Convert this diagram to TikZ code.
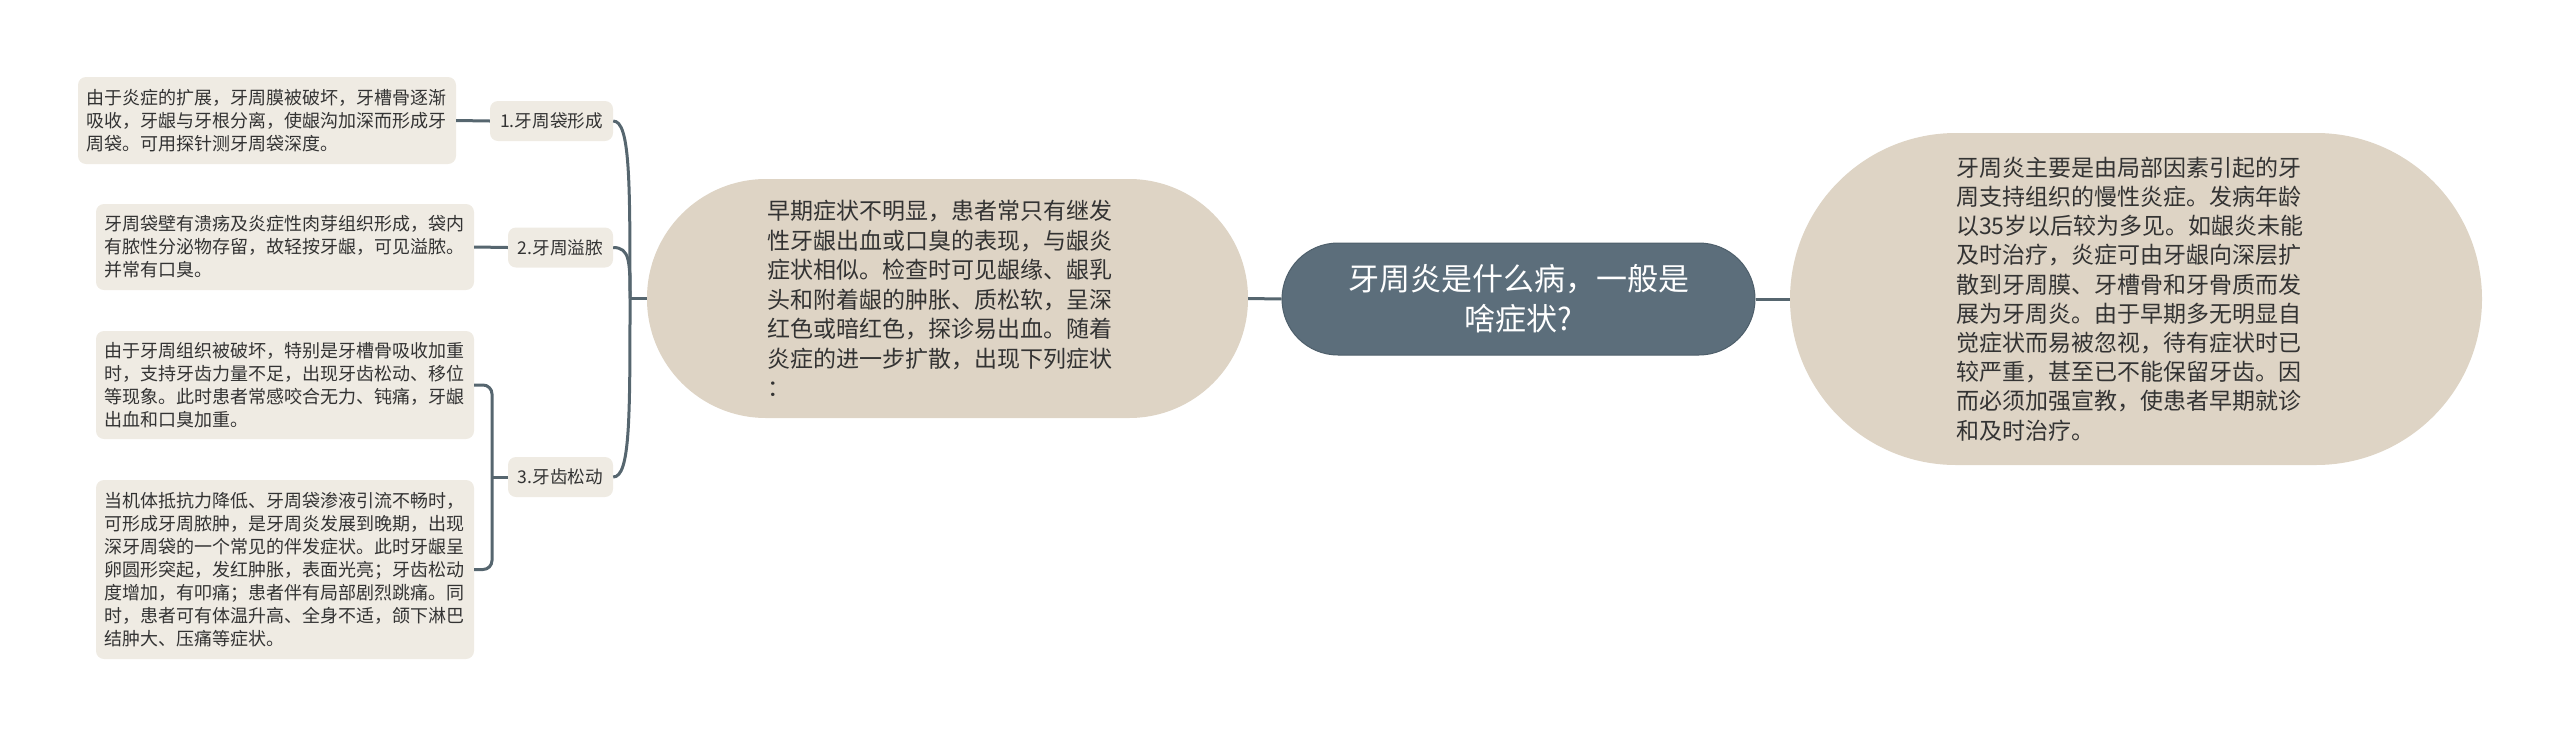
\documentclass[tikz,border=0pt]{standalone}
\usepackage{fontspec}
\setmainfont{Noto Sans CJK SC}
\definecolor{leaffill}{HTML}{EFEBE3}
\definecolor{nodefill}{HTML}{DED4C5}
\definecolor{centfill}{HTML}{5C6E7B}
\definecolor{centline}{HTML}{4E5F6B}
\definecolor{linec}{HTML}{56666F}
\definecolor{txt}{HTML}{333333}
\begin{document}
\begin{tikzpicture}[x=1pt,y=-1pt,
  leaf/.style={fill=leaffill, rounded corners=8pt, inner sep=0pt, minimum width=378pt,
    text width=362pt, align=left, font=\fontsize{18}{23}\selectfont, text=txt},
  lab/.style={fill=leaffill, rounded corners=8pt, inner sep=0pt, minimum height=40pt,
    font=\fontsize{17.6}{21}\selectfont, text=txt},
  big/.style={fill=nodefill, inner sep=0pt, align=left, text=txt},
  conn/.style={draw=linec, line width=3pt}]
\useasboundingbox (0,0) rectangle (2560,737);

% leaf boxes
\node[leaf, minimum height=87pt] (b1) at (267,120.5) {由于炎症的扩展，牙周膜被破坏，牙槽骨逐渐\\吸收，牙龈与牙根分离，使龈沟加深而形成牙\\周袋。可用探针测牙周袋深度。};
\node[leaf, minimum height=86pt] (b2) at (285,247) {牙周袋壁有溃疡及炎症性肉芽组织形成，袋内\\有脓性分泌物存留，故轻按牙龈，可见溢脓。\\并常有口臭。};
\node[leaf, minimum height=108pt] (b3) at (285,385) {由于牙周组织被破坏，特别是牙槽骨吸收加重\\时，支持牙齿力量不足，出现牙齿松动、移位\\等现象。此时患者常感咬合无力、钝痛，牙龈\\出血和口臭加重。};
\node[leaf, minimum height=179pt] (b4) at (285,569.5) {当机体抵抗力降低、牙周袋渗液引流不畅时，\\可形成牙周脓肿，是牙周炎发展到晚期，出现\\深牙周袋的一个常见的伴发症状。此时牙龈呈\\卵圆形突起，发红肿胀，表面光亮；牙齿松动\\度增加，有叩痛；患者伴有局部剧烈跳痛。同\\时，患者可有体温升高、全身不适，颌下淋巴\\结肿大、压痛等症状。};

% labels
\node[lab, minimum width=123pt] (l1) at (551.5,121) {1.牙周袋形成};
\node[lab, minimum width=105pt] (l2) at (560.5,247.5) {2.牙周溢脓};
\node[lab, minimum width=105pt] (l3) at (560.5,477) {3.牙齿松动};

% main nodes
\node[big, minimum width=601pt, minimum height=239pt, rounded corners=119pt,
  text width=361pt, font=\fontsize{23}{29.5}\selectfont] (mid) at (947.5,298.5)
  {早期症状不明显，患者常只有继发\\性牙龈出血或口臭的表现，与龈炎\\症状相似。检查时可见龈缘、龈乳\\头和附着龈的肿胀、质松软，呈深\\红色或暗红色，探诊易出血。随着\\炎症的进一步扩散，出现下列症状\\：};
\node[fill=centfill, draw=centline, line width=1pt, inner sep=0pt, minimum width=473pt,
  minimum height=112pt, rounded corners=56pt, align=center, text=white,
  font=\fontsize{31}{40}\selectfont] (root) at (1518.5,299)
  {牙周炎是什么病，一般是\\啥症状?};
\node[big, minimum width=692pt, minimum height=332pt, rounded corners=166pt,
  text width=360pt, font=\fontsize{23}{29.2}\selectfont] (right) at (2136,299)
  {牙周炎主要是由局部因素引起的牙\\周支持组织的慢性炎症。发病年龄\\以35岁以后较为多见。如龈炎未能\\及时治疗，炎症可由牙龈向深层扩\\散到牙周膜、牙槽骨和牙骨质而发\\展为牙周炎。由于早期多无明显自\\觉症状而易被忽视，待有症状时已\\较严重，甚至已不能保留牙齿。因\\而必须加强宣教，使患者早期就诊\\和及时治疗。};

% connectors
\coordinate (trunk) at (630,298.5);
\coordinate (sub) at (492,477);
\draw[conn] (root.west) -- (mid.east);
\draw[conn] (root.east) -- (right.west);
\draw[conn] (mid.west) -- (trunk);
\draw[conn] (trunk) .. controls (630,180) and (630,121) .. (l1.east);
\draw[conn] (trunk) .. controls (630,262) and (630,247.5) .. (l2.east);
\draw[conn] (trunk) .. controls (630,420) and (630,477) .. (l3.east);
\draw[conn] (b1.east) -- (l1.west);
\draw[conn] (b2.east) -- (l2.west);
\draw[conn, rounded corners=9pt] (b3.east) -| (sub) |- (b4.east);
\draw[conn] (sub) -- (l3.west);
\end{tikzpicture}
\end{document}
